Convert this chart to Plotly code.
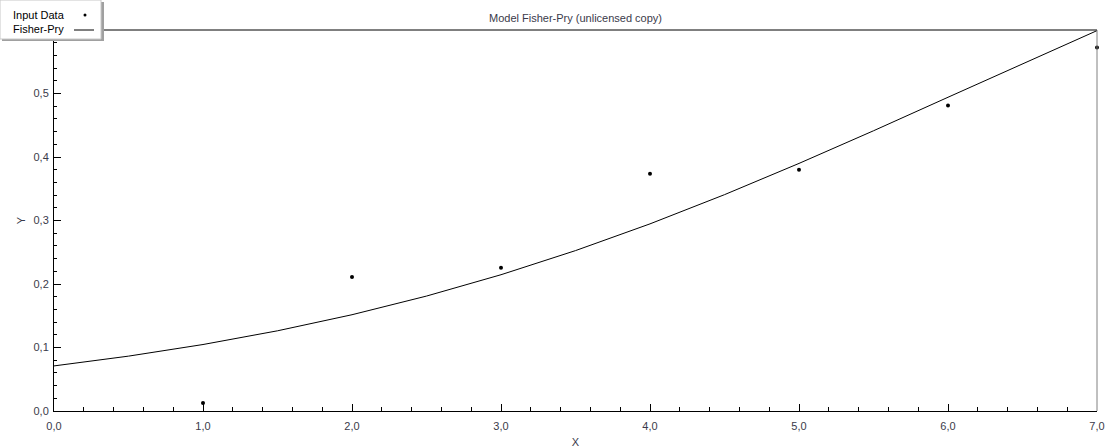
import plotly.graph_objects as go

# Observed data
x_data = [1, 2, 3, 4, 5, 6, 7]
y_data = [0.0126, 0.211, 0.2255, 0.3735, 0.380, 0.481, 0.5725]

# Fitted Fisher-Pry curve, sampled every 0.5
x_fit = [0.0, 0.5, 1.0, 1.5, 2.0, 2.5, 3.0, 3.5, 4.0, 4.5, 5.0, 5.5, 6.0, 6.5, 7.0]
y_fit = [0.0710, 0.0864, 0.1047, 0.1263, 0.1516, 0.1810, 0.2146, 0.2526,
         0.2947, 0.3407, 0.3899, 0.4413, 0.4941, 0.5471, 0.5990]

x_ticks = [0, 1, 2, 3, 4, 5, 6, 7]
y_ticks = [0.0, 0.1, 0.2, 0.3, 0.4, 0.5]

W, H = 1105, 448
L, R, T, B = 54, 8, 30, 37
PW, PH = W - L - R, H - T - B


def px(xp):
    return (xp - L) / PW


def py(yp):
    return (H - B - yp) / PH


FONT = "Liberation Sans, Arial, sans-serif"
TXT = "#3a3a4a"

fig = go.Figure()
fig.add_trace(go.Scatter(x=x_fit, y=y_fit, mode="lines", name="Fisher-Pry",
                         line=dict(color="black", width=1), showlegend=False))
fig.add_trace(go.Scatter(x=x_data, y=y_data, mode="markers", name="Input Data",
                         marker=dict(color="black", size=4), cliponaxis=False,
                         showlegend=False))

axis_common = dict(showgrid=False, zeroline=False, showline=True, linecolor="black",
                   linewidth=1, ticks="inside", ticklen=7, tickcolor="black",
                   automargin=False,
                   tickfont=dict(family=FONT, size=11, color=TXT),
                   title_font=dict(family=FONT, size=11, color=TXT))

fig.update_xaxes(range=[0, 7], tickvals=x_ticks, tickformat=".1f",
                 minor=dict(dtick=0.2, ticks="inside", ticklen=4, tickcolor="black"),
                 ticklabelstandoff=5, title_text="X", title_standoff=11, **axis_common)
fig.update_yaxes(range=[0, 0.6], tickvals=y_ticks, tickformat=".1f",
                 minor=dict(dtick=0.02, ticks="inside", ticklen=3, tickcolor="black"),
                 ticklabelstandoff=2, title_text="Y", title_standoff=5, **axis_common)

shapes = [
    # top frame line and right border
    dict(type="line", xref="paper", yref="paper", x0=0, x1=1, y0=1, y1=1,
         line=dict(color="black", width=1)),
    dict(type="line", xref="paper", yref="paper", x0=1, x1=1, y0=0, y1=1,
         line=dict(color="#808080", width=1)),
    # legend box with shadow
    dict(type="rect", xref="paper", yref="paper", x0=px(2), x1=px(104), y0=py(41), y1=py(2),
         fillcolor="#a0a0a0", line=dict(width=0)),
    dict(type="rect", xref="paper", yref="paper", x0=px(0), x1=px(101), y0=py(39), y1=py(0),
         fillcolor="white", line=dict(color="#c8c8c8", width=1)),
    # legend glyphs
    dict(type="line", xref="paper", yref="paper", x0=px(74), x1=px(94), y0=py(30), y1=py(30),
         line=dict(color="black", width=1)),
    dict(type="circle", xref="paper", yref="paper", x0=px(83.5), x1=px(86.5),
         y0=py(16.5), y1=py(13.5), fillcolor="black", line=dict(width=0)),
]

annotations = [
    dict(text="Model Fisher-Pry (unlicensed copy)", xref="paper", yref="paper",
         x=0.5, y=py(18), xanchor="center", yanchor="middle", showarrow=False,
         font=dict(family=FONT, size=11, color=TXT)),
    dict(text="Input Data", xref="paper", yref="paper", x=px(11), y=py(15),
         xanchor="left", yanchor="middle", showarrow=False,
         font=dict(family=FONT, size=11, color="black")),
    dict(text="Fisher-Pry", xref="paper", yref="paper", x=px(11), y=py(29),
         xanchor="left", yanchor="middle", showarrow=False,
         font=dict(family=FONT, size=11, color="black")),
]

fig.update_layout(width=W, height=H, margin=dict(l=L, r=R, t=T, b=B),
                  paper_bgcolor="white", plot_bgcolor="white",
                  separators=",.", showlegend=False,
                  shapes=shapes, annotations=annotations)

fig.write_html("out.html")
